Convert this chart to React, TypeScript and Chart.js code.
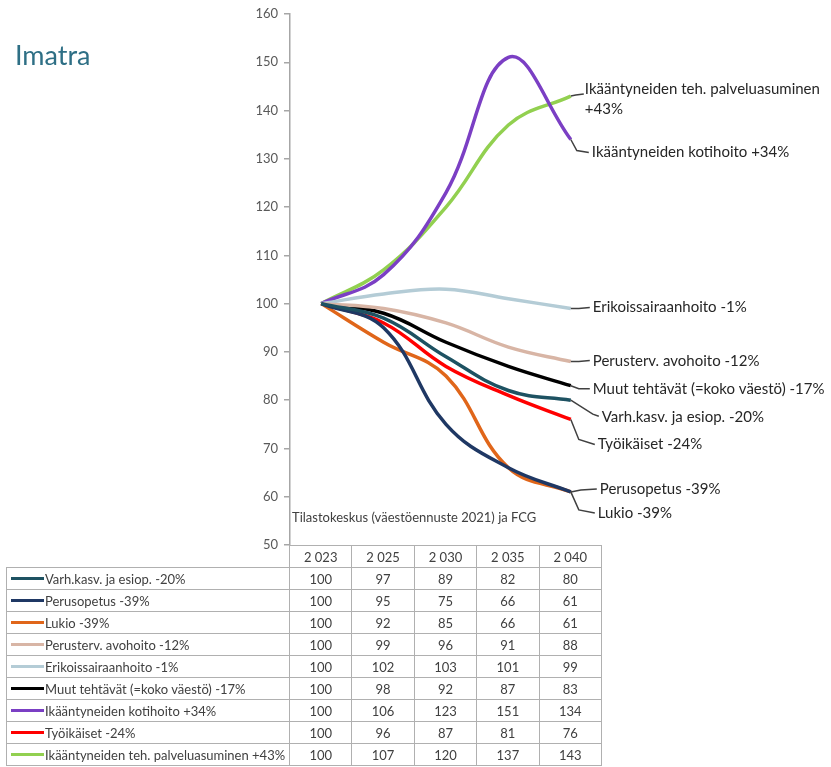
import React, { useEffect, useRef } from "react";
import { Chart, registerables } from "chart.js";

Chart.register(...registerables);

const years = ["2 023", "2 025", "2 030", "2 035", "2 040"];
const yTicks = [50, 60, 70, 80, 90, 100, 110, 120, 130, 140, 150, 160];

const seriesNames = [
  "Varh.kasv. ja esiop. -20%",
  "Perusopetus -39%",
  "Lukio -39%",
  "Perusterv. avohoito -12%",
  "Erikoissairaanhoito -1%",
  "Muut tehtävät (=koko väestö) -17%",
  "Ikääntyneiden kotihoito +34%",
  "Työikäiset -24%",
  "Ikääntyneiden teh. palveluasuminen +43%",
];

const varhValues = [100, 97, 89, 82, 80];
const perusopetusValues = [100, 95, 75, 66, 61];
const lukioValues = [100, 92, 85, 66, 61];
const perustervValues = [100, 99, 96, 91, 88];
const erikoisValues = [100, 102, 103, 101, 99];
const muutValues = [100, 98, 92, 87, 83];
const kotihoitoValues = [100, 106, 123, 151, 134];
const tyoikaisetValues = [100, 96, 87, 81, 76];
const tehValues = [100, 107, 120, 137, 143];

const allValues = [
  varhValues,
  perusopetusValues,
  lukioValues,
  perustervValues,
  erikoisValues,
  muutValues,
  kotihoitoValues,
  tyoikaisetValues,
  tehValues,
];

// end-of-line label texts (chart callouts)
const endLabels: string[][] = [
  ["Varh.kasv. ja esiop. -20%"],
  ["Perusopetus -39%"],
  ["Lukio -39%"],
  ["Perusterv. avohoito -12%"],
  ["Erikoissairaanhoito -1%"],
  ["Muut tehtävät (=koko väestö) -17%"],
  ["Ikääntyneiden kotihoito +34%"],
  ["Työikäiset -24%"],
  ["Ikääntyneiden teh. palveluasuminen", "+43%"],
];

const sourceText = "Tilastokeskus (väestöennuste 2021) ja FCG";
const titleText = "Imatra";

// styles
const colors = [
  "#1E5262",
  "#1F3864",
  "#E0661A",
  "#D8B5A5",
  "#B4CCD6",
  "#000000",
  "#7B3FC4",
  "#FF0000",
  "#92D050",
];

// callout leader paths & text anchors, in pixel offsets relative to line end
const leaderPaths: number[][][] = [
  [[0, 0], [22, 14], [28, 16]],
  [[0, 0], [10, -2], [26, -3]],
  [[0, 0], [8, 18], [24, 21]],
  [[0, 0], [8, 0], [19, -1]],
  [[0, 0], [8, 0], [19, -1]],
  [[0, 0], [8, 3], [19, 3]],
  [[0, 0], [6, 11], [18, 13]],
  [[0, 0], [8, 20], [24, 25]],
  [[0, 0], [5, -1], [13, -2]],
];
const textAnchors: number[][] = [
  [31, 17],
  [29, -3],
  [27, 21],
  [22, 0],
  [22, -1],
  [22, 3],
  [21, 13],
  [27, 25],
  [14, -7],
];

const FONT = "Lato, 'Open Sans', sans-serif";

const endLabelPlugin = {
  id: "endLabels",
  afterDatasetsDraw(chart: any) {
    const ctx = chart.ctx;
    ctx.save();
    chart.data.datasets.forEach((_ds: any, i: number) => {
      const meta = chart.getDatasetMeta(i);
      const pt = meta.data[meta.data.length - 1];
      if (!pt) return;
      const x0 = pt.x;
      const y0 = pt.y;
      ctx.strokeStyle = "#404040";
      ctx.lineWidth = 1.5;
      ctx.beginPath();
      leaderPaths[i].forEach((p, k) => {
        if (k === 0) ctx.moveTo(x0 + p[0], y0 + p[1]);
        else ctx.lineTo(x0 + p[0], y0 + p[1]);
      });
      ctx.stroke();
      ctx.fillStyle = "#262626";
      ctx.font = "15px " + FONT;
      ctx.textAlign = "left";
      ctx.textBaseline = "middle";
      endLabels[i].forEach((line, k) => {
        ctx.fillText(line, x0 + textAnchors[i][0], y0 + textAnchors[i][1] + k * 20);
      });
    });
    ctx.restore();
  },
};

function ChartCanvas() {
  const ref = useRef<HTMLCanvasElement | null>(null);
  useEffect(() => {
    if (!ref.current) return;
    const chart = new Chart(ref.current, {
      type: "line",
      data: {
        labels: years,
        datasets: allValues.map((vals, i) => ({
          label: seriesNames[i],
          data: vals,
          borderColor: colors[i],
          backgroundColor: colors[i],
          borderWidth: 3.5,
          pointRadius: 0,
          tension: 0.4,
          fill: false,
        })),
      },
      options: {
        animation: false,
        responsive: true,
        maintainAspectRatio: false,
        layout: { padding: { left: 230, right: 229, top: 14, bottom: 222 } },
        plugins: {
          legend: { display: false },
          tooltip: { enabled: false },
        },
        scales: {
          x: {
            type: "category",
            offset: true,
            display: false,
          },
          y: {
            min: 50,
            max: 160,
            afterFit: (s: any) => {
              s.width = 60;
            },
            afterBuildTicks: (s: any) => {
              s.ticks = yTicks.map((v) => ({ value: v }));
            },
            grid: {
              display: true,
              drawOnChartArea: false,
              drawTicks: true,
              tickLength: 6,
              color: "#A6A6A6",
              lineWidth: 1.5,
            },
            border: { display: true, color: "#A6A6A6", width: 1.5 },
            ticks: {
              padding: 6,
              color: "#595959",
              font: { family: FONT, size: 13 },
            },
          },
        },
      },
      plugins: [endLabelPlugin],
    });
    return () => chart.destroy();
  }, []);
  return <canvas ref={ref} />;
}

const cellBorder = "1.5px solid #B0B0B0";
const cellBase: React.CSSProperties = {
  border: cellBorder,
  padding: 0,
  height: 20,
  lineHeight: "18px",
  boxSizing: "border-box",
  overflow: "hidden",
};

export default function App() {
  return (
    <div
      style={{
        position: "absolute",
        left: 0,
        top: 0,
        width: 831,
        height: 767,
        background: "#fff",
        overflow: "hidden",
        fontFamily: FONT,
      }}
    >
      <div style={{ position: "absolute", left: 0, top: 0, width: 831, height: 767 }}>
        <ChartCanvas />
      </div>
      <div
        style={{
          position: "absolute",
          left: 15,
          top: 38,
          fontSize: 27,
          color: "#2E6F85",
          fontFamily: FONT,
        }}
      >
        {titleText}
      </div>
      <div
        style={{
          position: "absolute",
          left: 292,
          top: 509,
          fontSize: 13,
          color: "#404040",
          whiteSpace: "nowrap",
        }}
      >
        {sourceText}
      </div>
      <table
        style={{
          position: "absolute",
          left: 6,
          top: 545,
          borderCollapse: "collapse",
          tableLayout: "fixed",
          fontSize: 13,
          color: "#404040",
        }}
      >
        <colgroup>
          <col style={{ width: 283 }} />
          {years.map((y) => (
            <col key={y} style={{ width: 62.4 }} />
          ))}
        </colgroup>
        <tbody>
          <tr style={{ height: 22 }}>
            <td style={{ border: "none", padding: 0 }}></td>
            {years.map((y) => (
              <td key={y} style={{ ...cellBase, textAlign: "center" }}>
                {y}
              </td>
            ))}
          </tr>
          {seriesNames.map((name, i) => (
            <tr key={name} style={{ height: 22 }}>
              <td style={{ ...cellBase, whiteSpace: "nowrap" }}>
                <div style={{ display: "flex", alignItems: "center", height: 18 }}>
                  <span
                    style={{
                      display: "inline-block",
                      width: 33,
                      height: 3,
                      background: colors[i],
                      marginLeft: 4,
                      marginRight: 1,
                      flex: "none",
                    }}
                  />
                  <span>{name}</span>
                </div>
              </td>
              {allValues[i].map((v, k) => (
                <td key={k} style={{ ...cellBase, textAlign: "center" }}>
                  {v}
                </td>
              ))}
            </tr>
          ))}
        </tbody>
      </table>
    </div>
  );
}
